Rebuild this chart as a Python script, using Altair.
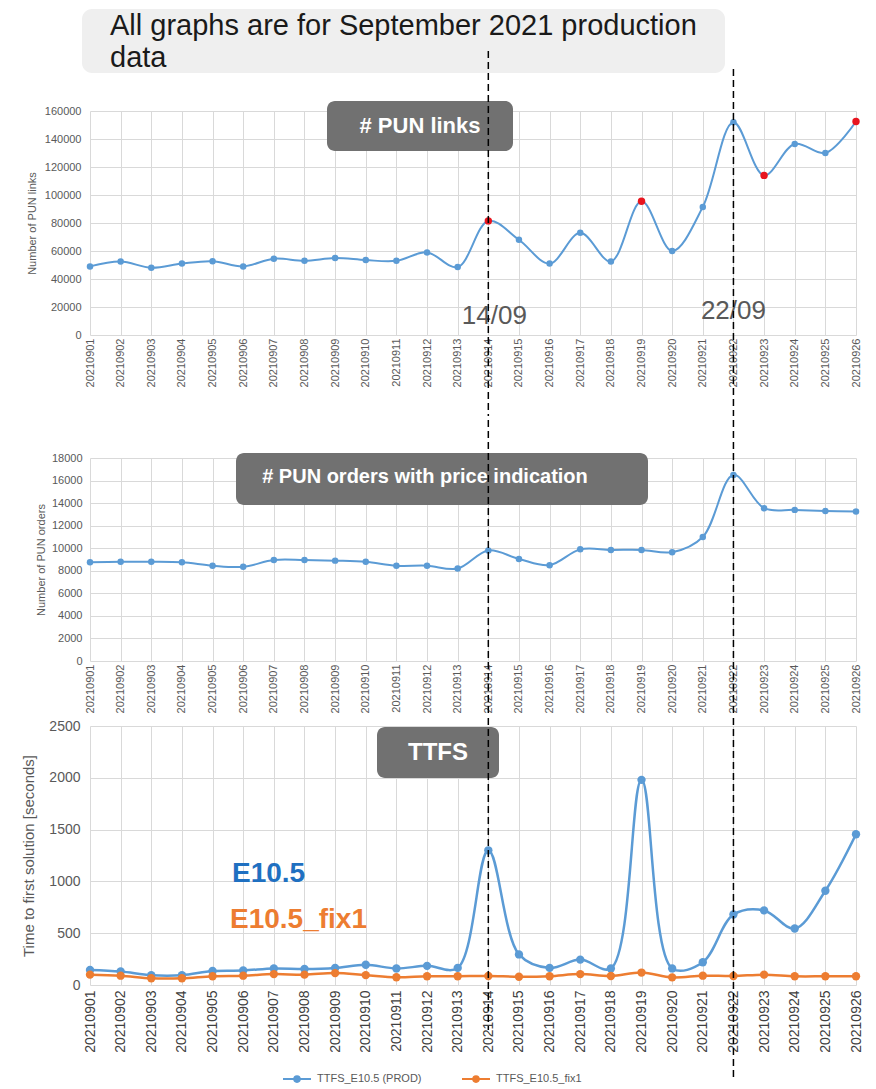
import altair as alt
import pandas as pd

# ---------------- data ----------------
dates = ['20210901', '20210902', '20210903', '20210904', '20210905', '20210906',
         '20210907', '20210908', '20210909', '20210910', '20210911', '20210912',
         '20210913', '20210914', '20210915', '20210916', '20210917', '20210918',
         '20210919', '20210920', '20210921', '20210922', '20210923', '20210924',
         '20210925', '20210926']

pun_links = [49000, 52500, 48000, 51000, 52700, 49000, 54500, 53000, 55000, 53500,
             53000, 59000, 48500, 81500, 68000, 51000, 73000, 52500, 95500, 60000,
             91500, 152000, 114000, 136500, 130000, 152500]
pun_links_red = ['20210914', '20210919', '20210923', '20210926']

pun_orders = [8750, 8800, 8800, 8750, 8450, 8350, 8950, 8950, 8900, 8800,
              8450, 8450, 8200, 9800, 9050, 8500, 9900, 9850, 9850, 9650,
              11000, 16500, 13550, 13400, 13300, 13250]

ttfs_prod = [145, 130, 95, 95, 135, 140, 160, 155, 165, 195, 160, 185, 165,
             1300, 295, 165, 245, 160, 1980, 160, 220, 680, 720, 545, 910, 1455]
ttfs_fix1 = [100, 90, 65, 65, 85, 90, 105, 100, 115, 95, 75, 85, 85,
             87, 80, 85, 105, 87, 120, 74, 90, 87, 100, 84, 84, 84]

series_names = ['TTFS_E10.5 (PROD)', 'TTFS_E10.5_fix1']
marker_dates = ['20210914', '20210922']
marker_labels = ['14/09', '22/09']

links_ticks = [0, 20000, 40000, 60000, 80000, 100000, 120000, 140000, 160000]
orders_ticks = [0, 2000, 4000, 6000, 8000, 10000, 12000, 14000, 16000, 18000]
ttfs_ticks = [0, 500, 1000, 1500, 2000, 2500]

# ---------------- style ----------------
BLUE = '#5B9BD5'
ORANGE = '#ED7D31'
RED = '#E8151F'
GRID = '#d9d9d9'
LBL = '#595959'
FONT = 'Liberation Sans'
W = 766
H1, H2, H3 = 224, 203, 259

df1 = pd.DataFrame({'date': dates, 'value': pun_links,
                    'red': [d in pun_links_red for d in dates]})
df2 = pd.DataFrame({'date': dates, 'value': pun_orders})
df3 = pd.DataFrame({
    'date': dates + dates,
    'value': ttfs_prod + ttfs_fix1,
    'series': [series_names[0]] * len(dates) + [series_names[1]] * len(dates),
})
df_mark = pd.DataFrame({'date': marker_dates, 'label': marker_labels})
one = pd.DataFrame({'k': [0]})


def xenc(size, color, pad=3):
    return alt.X('date:O', scale=alt.Scale(domain=dates, type='point', padding=0),
                 axis=alt.Axis(title=None, labelAngle=-90, labelFontSize=size,
                               labelColor=color, labelFont=FONT, ticks=False,
                               domain=False, grid=True, gridColor=GRID,
                               labelPadding=pad))


def yenc(dom, ticks, title, lsize, tsize, lpad, tpad):
    return alt.Y('value:Q', scale=alt.Scale(domain=dom, nice=False),
                 axis=alt.Axis(values=ticks, format='d', title=title,
                               titleFontSize=tsize, titleFontWeight='normal',
                               titleColor=LBL, titleFont=FONT,
                               labelFontSize=lsize, labelColor=LBL, labelFont=FONT,
                               labelPadding=lpad, titlePadding=tpad,
                               ticks=False, domain=False, gridColor=GRID))


def box(x0, x1, y0, y1, fill, radius):
    return alt.Chart(one).mark_rect(color=fill, cornerRadius=radius).encode(
        x=alt.value(x0), x2=alt.value(x1), y=alt.value(y0), y2=alt.value(y1))


def label(text, x, y, size, color='white', weight='bold', align='center', baseline='middle'):
    return alt.Chart(one).mark_text(text=text, font=FONT, fontSize=size, fontWeight=weight,
                                    color=color, align=align, baseline=baseline).encode(
        x=alt.value(x), y=alt.value(y))


def dashed(date, top, bottom, X):
    return alt.Chart(df_mark[df_mark.date == date]).mark_rule(
        color='black', strokeWidth=1.5, strokeDash=[7, 4]).encode(
        x=X, y=alt.value(top), y2=alt.value(bottom))


# ---------------- panel 1 ----------------
X1 = xenc(11, LBL)
Y1 = yenc([0, 160000], links_ticks, 'Number of PUN links', 11, 11, 9, 7)
p1 = alt.layer(
    alt.Chart(df1).mark_line(interpolate='catmull-rom', color=BLUE, strokeWidth=2).encode(x=X1, y=Y1),
    alt.Chart(df1).mark_point(filled=True, opacity=1).encode(
        x=X1, y=Y1,
        color=alt.condition(alt.datum.red, alt.value(RED), alt.value(BLUE)),
        size=alt.condition(alt.datum.red, alt.value(55), alt.value(42))),
    box(-8, 635, -102, -38, '#efefef', 10),
    label('All graphs are for September 2021 production', 20, -76, 29,
          color='#1a1a1a', weight='normal', align='left', baseline='alphabetic'),
    label('data', 20, -44, 29, color='#1a1a1a', weight='normal', align='left',
          baseline='alphabetic'),
    box(237, 423, -10, 40, '#717171', 8),
    label('# PUN links', 330, 15, 22),
    alt.Chart(df_mark[df_mark.date == '20210914']).mark_text(
        font=FONT, fontSize=26, color=LBL, dx=6, baseline='middle').encode(
        x=X1, y=alt.value(205), text='label:N'),
    alt.Chart(df_mark[df_mark.date == '20210922']).mark_text(
        font=FONT, fontSize=26, color=LBL, dx=0, baseline='middle').encode(
        x=X1, y=alt.value(200), text='label:N'),
    dashed('20210914', -60, 305, X1),
    dashed('20210922', -42, 305, X1),
).properties(width=W, height=H1)

# ---------------- panel 2 ----------------
X2 = xenc(11, LBL)
Y2 = yenc([0, 18000], orders_ticks, 'Number of PUN orders', 11, 11, 8, 5)
p2 = alt.layer(
    alt.Chart(df2).mark_line(interpolate='catmull-rom', color=BLUE, strokeWidth=2).encode(x=X2, y=Y2),
    alt.Chart(df2).mark_point(filled=True, size=42, opacity=1, color=BLUE).encode(x=X2, y=Y2),
    box(146, 558, -5, 47, '#717171', 8),
    label('# PUN orders with price indication', 335, 19, 20),
    dashed('20210914', -38, 256, X2),
    dashed('20210922', -38, 256, X2),
).properties(width=W, height=H2)

# ---------------- panel 3 ----------------
X3 = xenc(14, '#404040', 5)
Y3 = yenc([0, 2500], ttfs_ticks, 'Time to first solution [seconds]', 14, 15, 10, 12)
LEG_SYMBOL = ('M-1,0L1,0'
              'M-0.2,0A0.2,0.2 0 1,0 0.2,0A0.2,0.2 0 1,0 -0.2,0'
              'M-0.08,0A0.08,0.08 0 1,0 0.08,0A0.08,0.08 0 1,0 -0.08,0')
COLOR = alt.Color('series:N', scale=alt.Scale(domain=series_names, range=[BLUE, ORANGE]),
                  legend=alt.Legend(title=None, orient='none', legendX=192, legendY=338,
                                    direction='horizontal', symbolType=LEG_SYMBOL,
                                    symbolSize=784, symbolStrokeWidth=2, symbolOpacity=1,
                                    labelFont=FONT, labelFontSize=11, labelColor=LBL,
                                    labelOffset=5, columnPadding=36))
p3 = alt.layer(
    alt.Chart(df3).mark_line(interpolate='catmull-rom', strokeWidth=2.5).encode(
        x=X3, y=Y3, color=COLOR, detail='series:N'),
    alt.Chart(df3).mark_point(filled=True, size=70, opacity=1).encode(
        x=X3, y=Y3, color=alt.Color('series:N', scale=alt.Scale(domain=series_names, range=[BLUE, ORANGE]), legend=None)),
    box(287, 409, 1, 52, '#717171', 8),
    label('TTFS', 348, 27, 24),
    label('E10.5', 142, 156, 28, color='#1F70C1', align='left', baseline='alphabetic'),
    label('E10.5_fix1', 140, 202, 28, color=ORANGE, align='left', baseline='alphabetic'),
    dashed('20210914', -8, 304, X3),
    dashed('20210922', -8, 352, X3),
).properties(width=W, height=H3)

chart = alt.vconcat(p1, p2, p3, spacing=0).resolve_scale(color='independent').resolve_legend(
    color='independent').properties(
    padding={'left': 13, 'top': 0, 'right': 0, 'bottom': 0}
).configure_view(stroke='transparent')

chart.save('out.html', embed_options={'renderer': 'svg', 'actions': False})
